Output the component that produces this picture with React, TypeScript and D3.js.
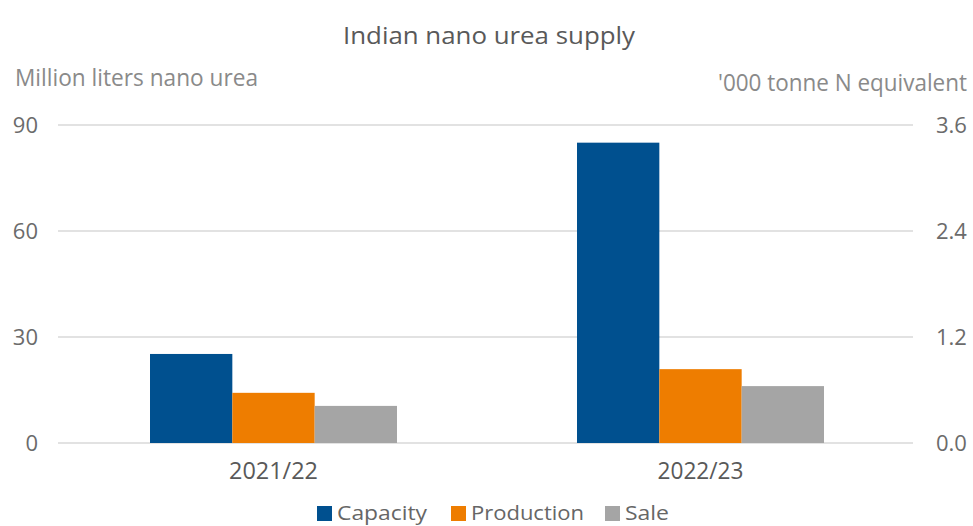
import React from "react";
import * as d3 from "d3";

const categories = ["2021/22", "2022/23"];
const seriesNames = ["Capacity", "Production", "Sale"];
const capacity = [25.2, 85];
const production = [14.2, 20.9];
const sale = [10.5, 16.1];
const leftTicks = [0, 30, 60, 90];
const rightTicks = [0, 1.2, 2.4, 3.6];
const colors = ["#00508F", "#EE7D00", "#A5A5A5"];

const W = 973;
const H = 526;
const FONT = "'Open Sans', Lato, sans-serif";

export default function App() {
  const values = [capacity, production, sale];
  const x0 = d3.scaleBand<string>().domain(categories).range([60, 914]).padding(0);
  const bw = x0.bandwidth();
  const x1 = d3.scaleBand<string>().domain(seriesNames).range([(bw - 247) / 2, (bw + 247) / 2]).padding(0);
  const y = d3.scaleLinear().domain([0, 90]).range([443, 125]);
  const yR = d3.scaleLinear().domain([0, 3.6]).range([443, 125]);

  const legendItems = [
    { name: "Capacity", x: 317, len: 90 },
    { name: "Production", x: 451, len: 113 },
    { name: "Sale", x: 605, len: 44 },
  ];
  const catLen = [89, 86];

  return (
    <svg width={W} height={H} style={{ position: "absolute", left: 0, top: 0, background: "#fff" }} fontFamily={FONT}>
      <rect width={W} height={H} fill="#fff" />
      <text x={343} y={44} fontSize={23} fill="#595959" textLength={292} lengthAdjust="spacingAndGlyphs">Indian nano urea supply</text>
      <text x={15} y={86} fontSize={23} fill="#8a8a8a" textLength={243} lengthAdjust="spacingAndGlyphs">Million liters nano urea</text>
      <text x={718} y={91} fontSize={23} fill="#8a8a8a" textLength={249} lengthAdjust="spacingAndGlyphs">'000 tonne N equivalent</text>

      {leftTicks.map((t) => (
        <g key={"l" + t}>
          <line x1={58} x2={913} y1={y(t)} y2={y(t)} stroke="#d9d9d9" strokeWidth={1.5} />
          <text x={38} y={y(t) + 8} textAnchor="end" fontSize={22} fill="#6b6b6b">{t}</text>
        </g>
      ))}
      {rightTicks.map((t) => (
        <text key={"r" + t} x={936} y={yR(t) + 8} fontSize={22} fill="#6b6b6b">{t.toFixed(1)}</text>
      ))}

      {categories.map((c, ci) => (
        <g key={c} transform={`translate(${x0(c)},0)`}>
          {seriesNames.map((s, si) => (
            <rect
              key={s}
              x={x1(s)}
              y={y(values[si][ci])}
              width={x1.bandwidth()}
              height={y(0) - y(values[si][ci])}
              fill={colors[si]}
            />
          ))}
          <text x={bw / 2 - catLen[ci] / 2} y={479} fontSize={23} fill="#595959" textLength={catLen[ci]} lengthAdjust="spacingAndGlyphs">{c}</text>
        </g>
      ))}

      {legendItems.map((it, i) => (
        <g key={it.name}>
          <rect x={it.x} y={506} width={15} height={15} fill={colors[i]} />
          <text x={it.x + 20} y={520} fontSize={20} fill="#666" textLength={it.len} lengthAdjust="spacingAndGlyphs">{it.name}</text>
        </g>
      ))}
    </svg>
  );
}
